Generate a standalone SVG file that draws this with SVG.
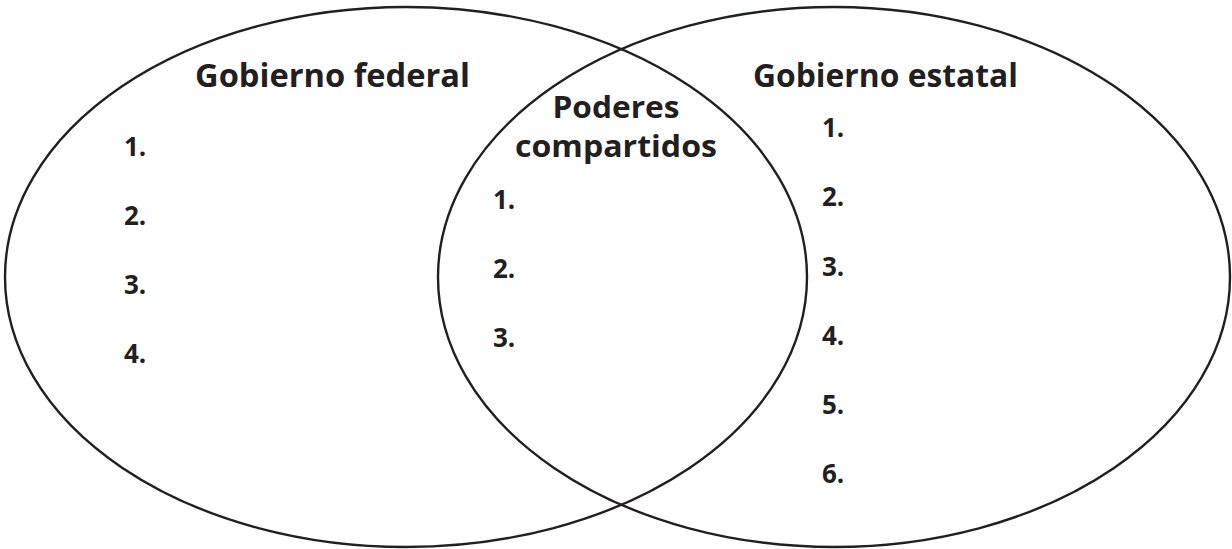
<svg xmlns="http://www.w3.org/2000/svg" width="1232" height="549" viewBox="0 0 1232 549">
<style>
.c{fill:none;stroke:#231f20;stroke-width:2.4}
.h{font-family:"Open Sans","Liberation Sans",sans-serif;font-weight:bold;font-size:33px;fill:#231f20}
.m{font-family:"Open Sans","Liberation Sans",sans-serif;font-weight:bold;font-size:31px;fill:#231f20}
.n{font-family:"Open Sans","Liberation Sans",sans-serif;font-weight:bold;font-size:26px;fill:#231f20}
</style>
<rect width="1232" height="549" fill="#fff"/>
<g id="connectors"></g>
<g id="federal">
<ellipse class="c" cx="406" cy="277" rx="401" ry="270"/>
<text class="h" x="195" y="87" textLength="275" lengthAdjust="spacingAndGlyphs">Gobierno federal</text>
<text class="n" x="124" y="156">1.</text>
<text class="n" x="124" y="225">2.</text>
<text class="n" x="124" y="294">3.</text>
<text class="n" x="124" y="363">4.</text>
</g>
<g id="estatal">
<ellipse class="c" cx="834" cy="277" rx="396" ry="270"/>
<text class="h" x="753" y="87" textLength="265" lengthAdjust="spacingAndGlyphs">Gobierno estatal</text>
<text class="n" x="822" y="137">1.</text>
<text class="n" x="822" y="206">2.</text>
<text class="n" x="822" y="276">3.</text>
<text class="n" x="822" y="345">4.</text>
<text class="n" x="822" y="414">5.</text>
<text class="n" x="822" y="483">6.</text>
</g>
<g id="compartidos">
<text class="m" x="616" y="118" text-anchor="middle" textLength="127" lengthAdjust="spacingAndGlyphs">Poderes</text>
<text class="m" x="616" y="157" text-anchor="middle" textLength="202" lengthAdjust="spacingAndGlyphs">compartidos</text>
<text class="n" x="493" y="209">1.</text>
<text class="n" x="493" y="278">2.</text>
<text class="n" x="493" y="347">3.</text>
</g>
</svg>
